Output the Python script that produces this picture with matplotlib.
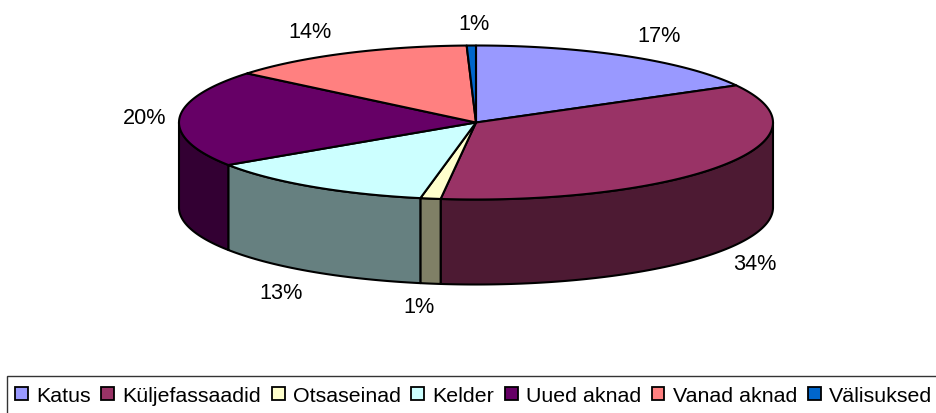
import numpy as np
import matplotlib
matplotlib.use('Agg')
import matplotlib.pyplot as plt
from matplotlib.patches import Polygon, Rectangle, Patch

plt.rcParams['font.family'] = ['Liberation Sans', 'DejaVu Sans']

categories = ['Katus', 'Küljefassaadid', 'Otsaseinad', 'Kelder', 'Uued aknad', 'Vanad aknad', 'Välisuksed']
values = [17.0, 34.9, 1.1, 12.7, 20.3, 13.5, 0.5]
pct_labels = ['17%', '34%', '1%', '13%', '20%', '14%', '1%']
top_colors = ['#9999FF', '#993366', '#FFFFCC', '#CCFFFF', '#660066', '#FF8080', '#0066CC']
side_colors = ['#4D4D80', '#4D1A33', '#808066', '#668080', '#330033', '#804040', '#003366']

# label centres in pixels, same order as categories
label_pos = [(659, 36), (755, 265), (419, 308), (281, 294), (145, 119), (310, 32), (474, 24)]

cx, cy = 476, 123.5
rx, ry = 297, 77
depth = 85
fs = 15.6
legend_fs = 15.4
lw = 1.5


def rim(t):
    return cx + rx * np.sin(t), cy - ry * np.cos(t)


fig = plt.figure(figsize=(9.37, 4.14), dpi=100)
ax = fig.add_axes([0, 0, 1, 1])
ax.set_xlim(0, 937)
ax.set_ylim(414, 0)
ax.axis('off')

edges = np.cumsum([0] + values) / sum(values) * 2 * np.pi

# sides first, only the front half of the cylinder shows
for i in range(len(values)):
    a = max(edges[i], np.pi / 2)
    b = min(edges[i + 1], 3 * np.pi / 2)
    if a >= b:
        continue
    t = np.linspace(a, b, 150)
    x, y = rim(t)
    pts = list(zip(x, y)) + list(zip(x[::-1], y[::-1] + depth))
    ax.add_patch(Polygon(pts, closed=True, facecolor=side_colors[i], edgecolor='black',
                         linewidth=lw, joinstyle='round'))

# top of the pie
for i in range(len(values)):
    t = np.linspace(edges[i], edges[i + 1], 150)
    x, y = rim(t)
    pts = [(cx, cy)] + list(zip(x, y))
    ax.add_patch(Polygon(pts, closed=True, facecolor=top_colors[i], edgecolor='black',
                         linewidth=lw, joinstyle='round'))

for lab, pos in zip(pct_labels, label_pos):
    ax.text(pos[0], pos[1], lab, fontsize=fs, ha='center', va='center', color='black')

# legend frame runs off the bottom and right of the picture
ax.add_patch(Rectangle((7, 377), 960, 60, facecolor='white', edgecolor='#333333', linewidth=1.0))
handles = [Patch(facecolor=c, edgecolor='black', linewidth=1.3) for c in top_colors]
ax.legend(handles, categories, ncol=7, frameon=False, fontsize=legend_fs, loc='center left',
          bbox_to_anchor=(15 / 937, 1 - 396.5 / 414), borderpad=0, borderaxespad=0,
          handlelength=0.6, handleheight=0.6, handletextpad=0.38, columnspacing=0.5)

fig.savefig('out.png', dpi=100)
